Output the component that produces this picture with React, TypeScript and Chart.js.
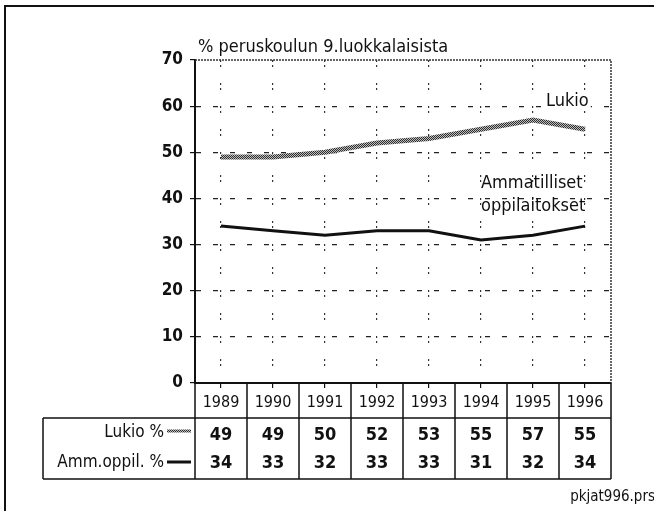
import React, { useEffect, useRef } from "react";
import { Chart, registerables } from "chart.js";

Chart.register(...registerables);

const years = ["1989", "1990", "1991", "1992", "1993", "1994", "1995", "1996"];
const lukio = [49, 49, 50, 52, 53, 55, 57, 55];
const ammatilliset = [34, 33, 32, 33, 33, 31, 32, 34];
const yMin = 0;
const yMax = 70;
const yStep = 10;
const titleText = "% peruskoulun 9.luokkalaisista";
const rowLabels = ["Lukio %", "Amm.oppil. %"];
const lukioLabel = "Lukio";
const ammLabelLines = ["Ammatilliset", "oppilaitokset"];
const fileName = "pkjat996.prs";

const FONT =
  "'Liberation Sans Narrow', 'DejaVu Sans Condensed', 'Arial Narrow', 'Liberation Sans', sans-serif";

function makePattern(): CanvasPattern | string {
  const c = document.createElement("canvas");
  c.width = 2;
  c.height = 2;
  const g = c.getContext("2d");
  if (!g) return "#777";
  g.fillStyle = "#bdbdbd";
  g.fillRect(0, 0, 2, 2);
  g.fillStyle = "#2e2e2e";
  g.fillRect(0, 0, 1, 1);
  g.fillRect(1, 1, 1, 1);
  const p = g.createPattern(c, "repeat");
  return p || "#777";
}

export default function App() {
  const ref = useRef<HTMLCanvasElement | null>(null);

  useEffect(() => {
    document.body.style.margin = "0";
    const canvas = ref.current;
    if (!canvas) return;
    const pattern = makePattern();

    const decor = {
      id: "decor",
      beforeDraw(chart: any) {
        const ctx = chart.ctx as CanvasRenderingContext2D;
        ctx.save();
        ctx.fillStyle = "#fff";
        ctx.fillRect(0, 0, chart.width, chart.height);
        ctx.strokeStyle = "#111";
        ctx.lineWidth = 2;
        ctx.beginPath();
        ctx.moveTo(5, chart.height);
        ctx.lineTo(5, 6);
        ctx.lineTo(chart.width, 6);
        ctx.stroke();
        ctx.restore();
      },
      afterDraw(chart: any) {
        const ctx = chart.ctx as CanvasRenderingContext2D;
        const xs = chart.scales.x;
        const ys = chart.scales.y;
        const { left, right, top, bottom } = chart.chartArea;
        ctx.save();

        // dotted top and right frame of plot
        ctx.strokeStyle = "#333";
        ctx.lineWidth = 1.5;
        ctx.setLineDash([2, 1]);
        ctx.beginPath();
        ctx.moveTo(left, top);
        ctx.lineTo(right, top);
        ctx.lineTo(right, bottom);
        ctx.stroke();
        ctx.setLineDash([]);

        // title
        ctx.fillStyle = "#111";
        ctx.textBaseline = "middle";
        ctx.textAlign = "left";
        ctx.font = `18px ${FONT}`;
        ctx.fillText(titleText, left + 3, top - 13);

        // annotations
        const xL = xs.getPixelForValue(6) + 13;
        const yL = ys.getPixelForValue(61);
        ctx.font = `18px ${FONT}`;
        const wL = ctx.measureText(lukioLabel).width;
        ctx.fillStyle = "#fff";
        ctx.fillRect(xL - 2, yL - 9, wL + 4, 18);
        ctx.fillStyle = "#111";
        ctx.fillText(lukioLabel, xL, yL);
        const xA = xs.getPixelForValue(5);
        ctx.fillText(ammLabelLines[0], xA, ys.getPixelForValue(43.3));
        ctx.fillText(ammLabelLines[1], xA, ys.getPixelForValue(38.3));

        // table
        const half = (xs.getPixelForValue(1) - xs.getPixelForValue(0)) / 2;
        const sep = bottom + 35;
        const tBottom = bottom + 96;
        const boxLeft = left - 152;
        ctx.strokeStyle = "#111";
        ctx.lineWidth = 1.5;
        ctx.beginPath();
        for (let k = 0; k <= years.length; k++) {
          const x = xs.getPixelForValue(0) - half + k * 2 * half;
          ctx.moveTo(x, bottom);
          ctx.lineTo(x, tBottom);
        }
        ctx.moveTo(boxLeft, sep);
        ctx.lineTo(right, sep);
        ctx.moveTo(boxLeft, tBottom);
        ctx.lineTo(right, tBottom);
        ctx.moveTo(boxLeft, sep);
        ctx.lineTo(boxLeft, tBottom);
        ctx.stroke();

        ctx.textAlign = "center";
        const yYear = bottom + 20;
        const yR1 = bottom + 52;
        const yR2 = bottom + 80;
        years.forEach((yr, i) => {
          const cx = xs.getPixelForValue(i);
          ctx.font = `16px ${FONT}`;
          ctx.fillText(yr, cx, yYear);
          ctx.font = `bold 18px ${FONT}`;
          ctx.fillText(String(lukio[i]), cx, yR1);
          ctx.fillText(String(ammatilliset[i]), cx, yR2);
        });

        ctx.textAlign = "right";
        ctx.font = `17px ${FONT}`;
        ctx.fillText(rowLabels[0], left - 31, yR1 - 2);
        ctx.fillText(rowLabels[1], left - 31, yR2);

        // legend samples
        ctx.strokeStyle = pattern as any;
        ctx.lineWidth = 3;
        ctx.beginPath();
        ctx.moveTo(left - 28, yR1 - 4);
        ctx.lineTo(left - 4, yR1 - 4);
        ctx.stroke();
        ctx.strokeStyle = "#111";
        ctx.lineWidth = 3;
        ctx.beginPath();
        ctx.moveTo(left - 28, yR2 - 1);
        ctx.lineTo(left - 4, yR2 - 1);
        ctx.stroke();

        // file name
        ctx.fillStyle = "#111";
        ctx.font = `15px ${FONT}`;
        ctx.textAlign = "right";
        ctx.fillText(fileName, chart.width + 1, chart.height - 14);

        ctx.restore();
      },
    };

    const chart = new Chart(canvas, {
      type: "line",
      data: {
        labels: years,
        datasets: [
          {
            label: "Lukio",
            data: lukio,
            borderColor: pattern as any,
            borderWidth: 5,
            pointRadius: 0,
            tension: 0,
          },
          {
            label: "Ammatilliset oppilaitokset",
            data: ammatilliset,
            borderColor: "#111",
            borderWidth: 3,
            pointRadius: 0,
            tension: 0,
          },
        ],
      },
      options: {
        responsive: false,
        animation: false,
        devicePixelRatio: 1,
        layout: { padding: { left: 0, top: 60, right: 43, bottom: 0 } },
        plugins: {
          legend: { display: false },
          tooltip: { enabled: false },
          title: { display: false },
        },
        scales: {
          x: {
            type: "category",
            offset: true,
            grid: {
              offset: false,
              color: "#333",
              lineWidth: 1.2,
              drawTicks: true,
              tickLength: 5,
              tickColor: "#111",
              tickBorderDash: [],
            },
            border: { display: true, color: "#111", width: 2, dash: [2, 3, 2, 16] },
            ticks: { display: false },
            afterFit: (s: any) => {
              s.height = 128;
            },
          },
          y: {
            type: "linear",
            min: yMin,
            max: yMax,
            grid: {
              color: (c: any) =>
                c.tick && (c.tick.value === yMin || c.tick.value === yMax)
                  ? "rgba(0,0,0,0)"
                  : "#222",
              lineWidth: 1.2,
              drawTicks: true,
              tickLength: 5,
              tickColor: "#111",
              tickBorderDash: [],
            },
            border: { display: true, color: "#111", width: 2, dash: [5, 12] },
            ticks: {
              stepSize: yStep,
              padding: 7,
              color: "#111",
              font: { family: FONT, size: 17, weight: "bold" },
            },
            afterFit: (s: any) => {
              s.width = 195;
            },
          },
        },
      },
      plugins: [decor],
    });

    return () => chart.destroy();
  }, []);

  return (
    <canvas
      ref={ref}
      width={654}
      height={511}
      style={{ display: "block", width: 654, height: 511 }}
    />
  );
}
